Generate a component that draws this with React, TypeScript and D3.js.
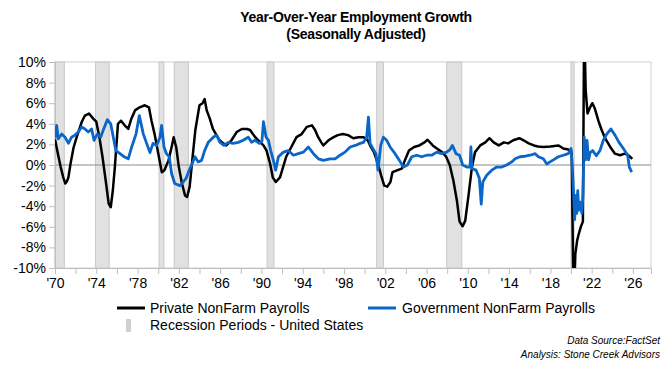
import { useEffect, useRef } from 'react';
import * as d3 from 'd3';

// year-over-year % change, [decimal year, value]
const privatePayrolls: [number, number][] = [
  [1970.0, 2.5], [1970.3, 1.0], [1970.55, -0.2], [1970.8, -1.2], [1971.0, -1.8], [1971.15, -1.6],
  [1971.3, -1.2], [1971.5, 0.1], [1971.8, 1.7], [1972.1, 2.7], [1972.6, 4.2], [1972.9, 4.8],
  [1973.3, 5.0], [1973.7, 4.5], [1974.0, 4.2], [1974.3, 2.7], [1974.6, 0.8], [1974.95, -1.8],
  [1975.2, -3.75], [1975.4, -4.1], [1975.6, -2.5], [1975.8, -0.2], [1976.1, 4.0], [1976.4, 4.3],
  [1976.75, 3.85], [1977.1, 3.5], [1977.4, 4.5], [1977.75, 5.3], [1978.2, 5.6], [1978.7, 5.8],
  [1979.1, 5.6], [1979.35, 4.3], [1979.65, 3.0], [1979.95, 1.4], [1980.35, -0.7], [1980.6, -0.5],
  [1981.0, 0.45], [1981.3, 1.75], [1981.5, 2.7], [1981.75, 1.7], [1982.0, -0.2], [1982.3, -1.8],
  [1982.6, -2.95], [1982.8, -3.1], [1983.05, -2.1], [1983.3, 0.45], [1983.6, 3.4], [1984.0, 5.8],
  [1984.3, 6.0], [1984.5, 6.4], [1984.7, 5.3], [1985.0, 4.5], [1985.3, 3.5], [1985.65, 2.9],
  [1985.95, 2.4], [1986.3, 2.1], [1986.6, 1.9], [1987.1, 2.4], [1987.6, 3.2], [1988.1, 3.5],
  [1988.6, 3.5], [1988.9, 3.4], [1989.4, 2.7], [1989.7, 2.4], [1990.2, 1.9], [1990.5, 1.4],
  [1990.85, 0.1], [1991.1, -1.2], [1991.4, -1.65], [1991.8, -1.2], [1992.1, -0.2], [1992.4, 0.8],
  [1992.9, 1.75], [1993.4, 2.7], [1993.9, 3.0], [1994.4, 3.7], [1994.9, 3.85], [1995.2, 3.4],
  [1995.5, 2.7], [1995.8, 2.2], [1996.0, 1.9], [1996.5, 2.4], [1997.0, 2.7], [1997.4, 2.9],
  [1997.9, 3.0], [1998.4, 2.9], [1998.9, 2.6], [1999.4, 2.7], [1999.9, 2.7], [2000.3, 2.4],
  [2000.6, 1.75], [2000.9, 1.25], [2001.3, 0.1], [2001.6, -1.0], [2001.9, -2.0], [2002.2, -2.1],
  [2002.5, -1.65], [2002.7, -0.7], [2003.2, -0.5], [2003.6, -0.35], [2003.9, 0.45], [2004.3, 1.4],
  [2004.8, 1.75], [2005.3, 1.9], [2005.8, 2.2], [2006.1, 2.45], [2006.6, 1.9], [2007.0, 1.6],
  [2007.5, 1.25], [2007.9, 0.8], [2008.25, 0.0], [2008.6, -1.5], [2008.95, -3.5], [2009.2, -5.5],
  [2009.5, -5.95], [2009.75, -5.4], [2010.05, -3.1], [2010.4, -0.2], [2010.7, 1.25], [2011.2, 1.9],
  [2011.7, 2.2], [2012.1, 2.6], [2012.5, 2.2], [2013.0, 1.9], [2013.5, 2.2], [2013.9, 2.1],
  [2014.4, 2.4], [2015.0, 2.6], [2015.4, 2.4], [2015.9, 2.1], [2016.4, 1.9], [2016.8, 1.8],
  [2017.3, 1.75], [2018.0, 1.8], [2018.8, 1.9], [2019.25, 1.6], [2019.74, 1.5], [2020.0, 1.4],
  [2020.07, 1.0], [2020.25, -14.0], [2020.33, -11.5], [2020.42, -8.6], [2020.6, -7.3],
  [2020.75, -6.7], [2020.95, -6.0], [2021.15, -5.5], [2021.27, 13.5], [2021.35, 10.5],
  [2021.42, 7.3], [2021.6, 5.0], [2021.85, 5.6], [2022.07, 6.0], [2022.3, 5.5], [2022.65, 4.3],
  [2022.97, 3.4], [2023.3, 2.6], [2023.8, 1.75], [2024.26, 1.1], [2024.75, 0.95], [2025.2, 1.1],
  [2025.55, 0.95], [2025.94, 0.6],
];

const governmentPayrolls: [number, number][] = [
  [1970.0, 2.6], [1970.16, 3.85], [1970.32, 2.55], [1970.65, 3.0], [1970.97, 2.7], [1971.3, 2.1],
  [1971.6, 2.7], [1971.94, 2.9], [1972.26, 3.2], [1972.58, 3.7], [1972.9, 3.5], [1973.23, 3.2],
  [1973.55, 3.5], [1973.78, 2.4], [1974.1, 3.0], [1974.42, 2.7], [1974.68, 3.4], [1975.07, 4.4],
  [1975.4, 4.0], [1975.65, 2.7], [1975.9, 1.4], [1976.3, 1.1], [1976.7, 0.8], [1977.1, 0.6],
  [1977.43, 1.75], [1977.85, 3.0], [1978.17, 4.8], [1978.56, 3.0], [1978.88, 2.1], [1979.2, 1.2],
  [1979.5, 2.1], [1979.85, 1.9], [1980.17, 2.7], [1980.33, 3.85], [1980.56, 1.75], [1980.8, 1.1],
  [1981.07, 0.8], [1981.3, -0.85], [1981.6, -1.8], [1982.1, -2.0], [1982.43, -1.65], [1982.7, -1.3],
  [1983.0, -0.5], [1983.24, 0.0], [1983.56, 0.8], [1983.88, 0.3], [1984.2, 0.45], [1984.5, 1.4],
  [1984.85, 2.2], [1985.34, 2.7], [1985.66, 2.9], [1985.98, 2.2], [1986.37, 1.9], [1986.8, 2.2],
  [1987.27, 2.1], [1987.76, 2.2], [1988.24, 2.4], [1988.73, 2.7], [1989.05, 2.2], [1989.37, 2.4],
  [1989.8, 2.1], [1990.05, 2.3], [1990.2, 4.2], [1990.45, 2.7], [1990.68, 2.4], [1990.9, 1.4],
  [1991.16, 0.45], [1991.38, -0.5], [1991.65, 0.8], [1992.13, 1.25], [1992.6, 1.4], [1993.1, 0.95],
  [1993.58, 1.1], [1994.07, 1.25], [1994.55, 1.75], [1995.04, 1.1], [1995.52, 0.6], [1996.0, 0.45],
  [1996.65, 0.6], [1997.14, 0.6], [1997.62, 0.95], [1998.1, 1.25], [1998.6, 1.75], [1999.1, 1.9],
  [1999.56, 2.1], [1999.9, 2.2], [2000.2, 2.7], [2000.37, 4.65], [2000.53, 2.1], [2000.8, 1.6],
  [2001.1, 1.1], [2001.3, -0.5], [2001.56, 1.9], [2001.82, 2.7], [2002.14, 2.4], [2002.47, 1.75],
  [2002.95, 1.1], [2003.37, 0.45], [2003.76, -0.2], [2004.15, 0.0], [2004.57, 0.8], [2005.05, 0.95],
  [2005.53, 0.8], [2006.02, 0.95], [2006.5, 0.95], [2007.0, 1.25], [2007.47, 1.1], [2007.95, 1.25],
  [2008.28, 1.5], [2008.5, 1.9], [2008.86, 1.1], [2009.2, 0.95], [2009.5, 0.0], [2009.9, -0.2],
  [2010.22, -0.2], [2010.3, 1.75], [2010.4, -0.35], [2010.8, -0.5], [2011.12, -1.3], [2011.3, -3.8],
  [2011.45, -1.65], [2011.83, -1.0], [2012.32, -0.5], [2012.8, -0.2], [2013.29, -0.2], [2013.77, 0.0],
  [2014.26, 0.3], [2014.58, 0.6], [2015.06, 0.8], [2015.55, 0.85], [2016.03, 0.95], [2016.52, 1.1],
  [2016.84, 0.8], [2017.32, 0.6], [2017.65, 0.1], [2017.97, 0.3], [2018.45, 0.6], [2018.77, 0.8],
  [2019.26, 0.95], [2019.74, 1.1], [2020.0, 1.6], [2020.13, -0.2], [2020.26, -3.0], [2020.35, -5.3],
  [2020.45, -2.95], [2020.55, -4.7], [2020.65, -2.5], [2020.75, -4.4], [2020.9, -3.6], [2021.05, -4.7],
  [2021.15, -3.0], [2021.28, 2.7], [2021.4, 0.5], [2021.55, 2.4], [2021.7, 0.5], [2021.85, 1.2],
  [2022.1, 1.4], [2022.45, 0.9], [2022.8, 1.4], [2023.13, 2.4], [2023.46, 3.0], [2023.87, 3.5],
  [2024.26, 2.9], [2024.65, 2.2], [2025.07, 1.6], [2025.49, 0.95], [2025.65, -0.2], [2025.88, -0.7],
];

// NBER recession periods, [start, end]
const recessions: [number, number][] = [
  [1970.0, 1970.9], [1973.92, 1975.25], [1980.08, 1980.55], [1981.55, 1982.92],
  [1990.55, 1991.22], [2001.17, 2001.83], [2007.95, 2009.42], [2020.0, 2020.3],
];

const yTickValues = [-10, -8, -6, -4, -2, 0, 2, 4, 6, 8, 10];
const xTickYears = d3.range(1970, 2027, 2);
const xLabelYears = d3.range(1970, 2027, 4);

const FONT = '"Liberation Sans", Arial, sans-serif';

export default function App() {
  const svgRef = useRef<SVGSVGElement>(null);

  useEffect(() => {
    if (!svgRef.current) return;
    const svg = d3.select(svgRef.current);
    svg.selectAll('*').remove();

    const left = 55, right = 651, top = 62, bottom = 268;

    const x = d3.scaleLinear().domain([1970, 2027.75]).range([left, right]);
    const y = d3.scaleLinear().domain([-10, 10]).range([bottom, top]);

    // clip for lines
    svg.append('defs').append('clipPath').attr('id', 'plotClip')
      .append('rect')
      .attr('x', left).attr('y', top)
      .attr('width', right - left).attr('height', bottom - top);

    // recession shading
    svg.append('g')
      .selectAll('rect')
      .data(recessions)
      .enter()
      .append('rect')
      .attr('x', d => x(d[0]))
      .attr('y', top)
      .attr('width', d => x(d[1]) - x(d[0]))
      .attr('height', bottom - top)
      .attr('fill', '#e1e1e1')
      .attr('stroke', '#c8c8c8')
      .attr('stroke-width', 1);

    // plot border
    svg.append('rect')
      .attr('x', left).attr('y', top)
      .attr('width', right - left).attr('height', bottom - top)
      .attr('fill', 'none')
      .attr('stroke', '#d0d0d0');

    // zero line
    svg.append('line')
      .attr('x1', left).attr('x2', right)
      .attr('y1', y(0)).attr('y2', y(0))
      .attr('stroke', '#8c8c8c')
      .attr('stroke-width', 1);

    // y axis
    const yAxis = d3.axisLeft(y)
      .tickValues(yTickValues)
      .tickSize(6)
      .tickPadding(3)
      .tickFormat(d => `${d}%`);
    const yg = svg.append('g').attr('transform', `translate(${left},0)`).call(yAxis);
    yg.selectAll('.domain, .tick line').attr('stroke', '#bfbfbf');
    yg.selectAll('text')
      .attr('fill', '#000')
      .style('font-family', FONT)
      .style('font-size', '14px');

    // x axis
    const xAxis = d3.axisBottom(x)
      .tickValues(xTickYears)
      .tickSize(6)
      .tickPadding(4)
      .tickFormat(d => (xLabelYears.includes(d as number) ? `'${String(d).slice(2)}` : ''));
    const xg = svg.append('g').attr('transform', `translate(0,${bottom})`).call(xAxis);
    xg.selectAll('.domain, .tick line').attr('stroke', '#bfbfbf');
    xg.selectAll('text')
      .attr('fill', '#000')
      .style('font-family', FONT)
      .style('font-size', '14px');

    const line = d3.line<[number, number]>()
      .x(d => x(d[0]))
      .y(d => y(d[1]));

    const lines = svg.append('g').attr('clip-path', 'url(#plotClip)');

    lines.append('path')
      .datum(privatePayrolls)
      .attr('d', line)
      .attr('fill', 'none')
      .attr('stroke', '#000')
      .attr('stroke-width', 2.5)
      .attr('stroke-linejoin', 'round');

    lines.append('path')
      .datum(governmentPayrolls)
      .attr('d', line)
      .attr('fill', 'none')
      .attr('stroke', '#0a66c8')
      .attr('stroke-width', 2.8)
      .attr('stroke-linejoin', 'round');

    // title
    const title = svg.append('g')
      .attr('font-family', FONT)
      .attr('font-weight', 'bold')
      .attr('font-size', 14)
      .attr('text-anchor', 'middle')
      .attr('letter-spacing', -0.3);
    title.append('text').attr('x', 356).attr('y', 22).text('Year-Over-Year Employment Growth');
    title.append('text').attr('x', 356).attr('y', 39).text('(Seasonally Adjusted)');

    // legend
    const legend = svg.append('g').attr('font-family', FONT).attr('font-size', 14);
    legend.append('line')
      .attr('x1', 117).attr('x2', 145).attr('y1', 308).attr('y2', 308)
      .attr('stroke', '#000').attr('stroke-width', 3);
    legend.append('text').attr('x', 150).attr('y', 313).text('Private NonFarm Payrolls');
    legend.append('line')
      .attr('x1', 368).attr('x2', 396).attr('y1', 308).attr('y2', 308)
      .attr('stroke', '#0a66c8').attr('stroke-width', 3);
    legend.append('text').attr('x', 402).attr('y', 313).text('Government NonFarm Payrolls');
    legend.append('rect')
      .attr('x', 126).attr('y', 319).attr('width', 5).attr('height', 13)
      .attr('fill', '#d0d0d0');
    legend.append('text').attr('x', 150).attr('y', 330).text('Recession Periods - United States');

    // source notes
    const notes = svg.append('g')
      .attr('font-family', FONT)
      .attr('font-size', 10)
      .attr('font-style', 'italic')
      .attr('text-anchor', 'end');
    notes.append('text').attr('x', 660).attr('y', 344).text('Data Source:FactSet');
    notes.append('text').attr('x', 660).attr('y', 358).text('Analysis: Stone Creek Advisors');
  }, []);

  return (
    <svg
      ref={svgRef}
      width={666}
      height={368}
      style={{ position: 'absolute', left: 0, top: 0, background: '#fff' }}
    />
  );
}
